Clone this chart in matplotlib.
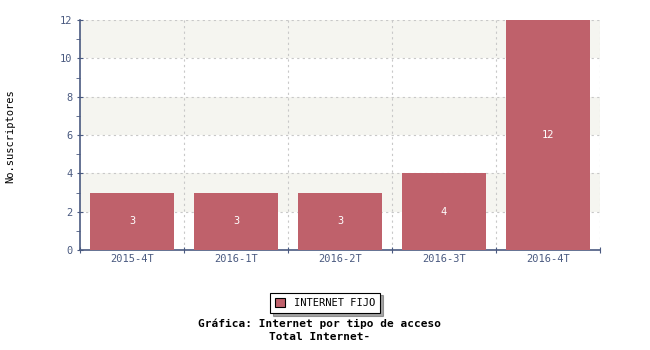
import matplotlib
matplotlib.use("Agg")
from matplotlib import pyplot as plt
from matplotlib.patches import Patch
from matplotlib.ticker import MultipleLocator

plt.rcParams["font.family"] = "DejaVu Sans Mono"

periodos = ["2015-4T", "2016-1T", "2016-2T", "2016-3T", "2016-4T"]
suscriptores = [3, 3, 3, 4, 12]
serie = "INTERNET FIJO"

eje_color = "#4a5a80"
barra_color = "#bf616b"

fig = plt.figure(figsize=(6.5, 3.5), dpi=100)
ax = fig.add_axes([80 / 650, 1 - 250 / 350, 520 / 650, 230 / 350])

# bandas alternas de fondo
for y0 in range(0, 12, 2):
    if (y0 // 2) % 2 == 1:
        ax.axhspan(y0, y0 + 2, color="#f5f5f0", zorder=0, lw=0)

x = range(len(periodos))
bars = ax.bar(x, suscriptores, width=0.81, color=barra_color, zorder=3)
for b, v in zip(bars, suscriptores):
    ax.text(b.get_x() + b.get_width() / 2, v / 2, str(v), ha="center", va="center",
            color="white", fontsize=7.5, zorder=4)

ax.set_xlim(-0.5, len(periodos) - 0.5)
ax.set_ylim(0, 12)
ax.yaxis.set_major_locator(MultipleLocator(2))
ax.yaxis.set_minor_locator(MultipleLocator(1))

# ticks en los limites de categoria
bordes = [i - 0.5 for i in range(len(periodos) + 1)]
ax.set_xticks(bordes)
ax.set_xticklabels([])
ax.set_xticks(list(x), minor=True)
ax.set_xticklabels(periodos, minor=True)
ax.tick_params(axis="x", which="minor", length=0, pad=3, labelsize=7.5, labelcolor=eje_color)
ax.tick_params(axis="x", which="major", length=5, direction="inout", color=eje_color)
ax.tick_params(axis="y", which="major", length=5, direction="inout", color=eje_color,
               labelsize=7.5, labelcolor=eje_color, pad=3)
ax.tick_params(axis="y", which="minor", length=3, direction="out", color=eje_color)

for g in bordes[1:]:
    ax.axvline(g, color="#c8c8c8", ls=(0, (2, 3)), lw=0.8, zorder=1)
for g in range(2, 13, 2):
    ax.axhline(g, color="#c8c8c8", ls=(0, (2, 3)), lw=0.8, zorder=1)

for s in ["top", "right"]:
    ax.spines[s].set_visible(False)
for s in ["left", "bottom"]:
    ax.spines[s].set_color(eje_color)
    ax.spines[s].set_linewidth(1.2)

fig.text(10 / 650, 1 - 136 / 350, "No.suscriptores", rotation=90,
         ha="center", va="center", fontsize=7.5)

handle = Patch(facecolor=barra_color, edgecolor="black", linewidth=0.8)
leg = fig.legend([handle], [serie], loc="center", bbox_to_anchor=(325 / 650, 1 - 303 / 350),
                 fontsize=7.5, frameon=True, fancybox=False, shadow=True,
                 handlelength=1.0, handleheight=1.0, borderpad=0.5)
leg.get_frame().set_edgecolor("black")
leg.get_frame().set_linewidth(0.8)

fig.text(320 / 650, 1 - 324 / 350, "Gráfica: Internet por tipo de acceso",
         ha="center", va="center", fontsize=8, fontweight="bold")
fig.text(320 / 650, 1 - 337 / 350, "Total Internet-",
         ha="center", va="center", fontsize=8, fontweight="bold")

fig.savefig("out.png", dpi=100)
